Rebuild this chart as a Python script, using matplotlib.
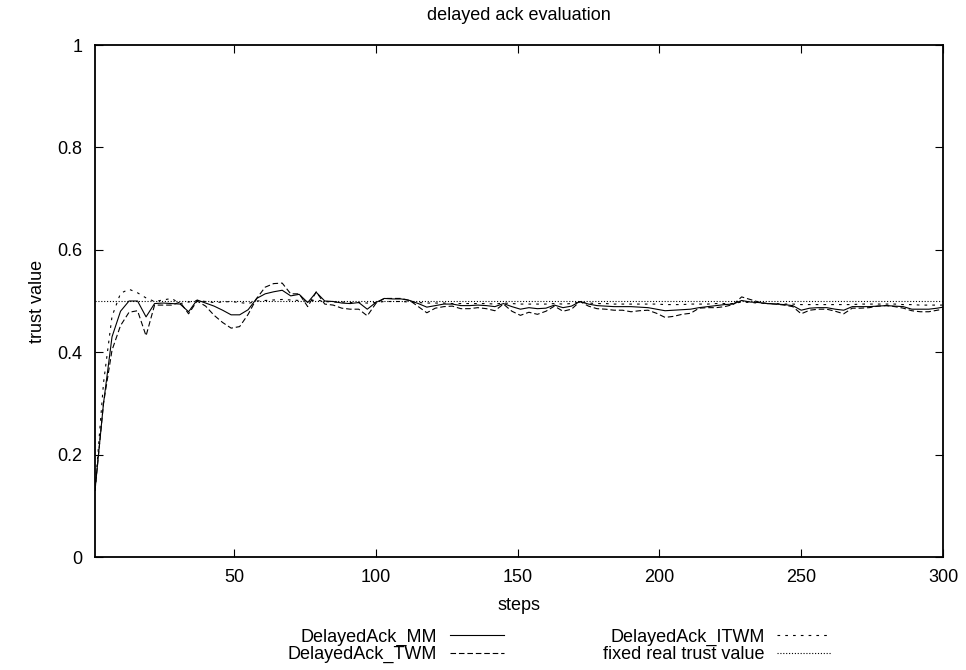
import matplotlib
matplotlib.use("Agg")
import matplotlib.pyplot as plt

plt.rcParams['font.family'] = ['Liberation Sans', 'DejaVu Sans']
plt.rcParams['font.size'] = 13

# sampling steps (every 3 steps, last one at 300)
steps = [1, 4, 7, 10, 13, 16, 19, 22, 25, 28, 31, 34, 37, 40, 43, 46, 49, 52, 55, 58,
         61, 64, 67, 70, 73, 76, 79, 82, 85, 88, 91, 94, 97, 100, 103, 106, 109, 112, 115, 118,
         121, 124, 127, 130, 133, 136, 139, 142, 145, 148, 151, 154, 157, 160, 163, 166, 169, 172, 175, 178,
         181, 184, 187, 190, 193, 196, 199, 202, 205, 208, 211, 214, 217, 220, 223, 226, 229, 232, 235, 238,
         241, 244, 247, 250, 253, 256, 259, 262, 265, 268, 271, 274, 277, 280, 283, 286, 289, 292, 295, 298,
         300]

mm = [0.130, 0.300, 0.430, 0.480, 0.500, 0.500, 0.469, 0.495, 0.496, 0.495, 0.494, 0.479, 0.502, 0.496, 0.490, 0.482, 0.473, 0.473, 0.483, 0.505,
      0.514, 0.518, 0.521, 0.510, 0.513, 0.497, 0.517, 0.500, 0.499, 0.496, 0.495, 0.497, 0.484, 0.497, 0.505, 0.504, 0.504, 0.501, 0.495, 0.488,
      0.491, 0.494, 0.494, 0.491, 0.491, 0.492, 0.491, 0.489, 0.495, 0.489, 0.484, 0.487, 0.485, 0.486, 0.492, 0.487, 0.490, 0.499, 0.494, 0.491,
      0.490, 0.489, 0.489, 0.489, 0.488, 0.487, 0.484, 0.481, 0.482, 0.483, 0.484, 0.487, 0.489, 0.491, 0.493, 0.494, 0.501, 0.498, 0.497, 0.495,
      0.494, 0.493, 0.491, 0.482, 0.486, 0.487, 0.487, 0.484, 0.482, 0.489, 0.489, 0.489, 0.490, 0.491, 0.490, 0.489, 0.484, 0.484, 0.484, 0.486,
      0.488]

twm = [0.130, 0.300, 0.404, 0.452, 0.478, 0.481, 0.432, 0.492, 0.492, 0.492, 0.498, 0.475, 0.500, 0.490, 0.472, 0.458, 0.447, 0.450, 0.474, 0.505,
       0.527, 0.534, 0.535, 0.514, 0.514, 0.489, 0.518, 0.494, 0.492, 0.486, 0.484, 0.484, 0.471, 0.495, 0.505, 0.505, 0.505, 0.501, 0.489, 0.477,
       0.486, 0.489, 0.490, 0.485, 0.485, 0.487, 0.485, 0.481, 0.494, 0.480, 0.472, 0.478, 0.474, 0.480, 0.490, 0.480, 0.484, 0.499, 0.490, 0.485,
       0.484, 0.482, 0.482, 0.479, 0.481, 0.482, 0.476, 0.468, 0.470, 0.474, 0.476, 0.486, 0.487, 0.487, 0.489, 0.493, 0.508, 0.503, 0.498, 0.495,
       0.494, 0.492, 0.489, 0.475, 0.482, 0.484, 0.484, 0.480, 0.475, 0.486, 0.486, 0.487, 0.490, 0.491, 0.489, 0.486, 0.481, 0.479, 0.479, 0.482,
       0.484]

itwm = [0.130, 0.340, 0.470, 0.515, 0.523, 0.516, 0.506, 0.499, 0.502, 0.505, 0.495, 0.498, 0.501, 0.499, 0.497, 0.498, 0.499, 0.497, 0.495, 0.500,
        0.501, 0.502, 0.503, 0.502, 0.501, 0.500, 0.502, 0.499, 0.498, 0.498, 0.497, 0.497, 0.496, 0.497, 0.499, 0.499, 0.499, 0.498, 0.497, 0.496,
        0.496, 0.496, 0.495, 0.495, 0.495, 0.495, 0.495, 0.494, 0.496, 0.495, 0.494, 0.494, 0.494, 0.494, 0.495, 0.494, 0.495, 0.498, 0.496, 0.495,
        0.495, 0.494, 0.494, 0.494, 0.494, 0.494, 0.494, 0.493, 0.493, 0.493, 0.494, 0.494, 0.494, 0.495, 0.495, 0.495, 0.498, 0.497, 0.496, 0.495,
        0.495, 0.494, 0.494, 0.493, 0.493, 0.493, 0.493, 0.493, 0.493, 0.493, 0.494, 0.494, 0.494, 0.494, 0.494, 0.493, 0.493, 0.492, 0.492, 0.492,
        0.492]

real_trust = 0.5

fig = plt.figure(figsize=(9.66, 6.70), dpi=100)
ax = fig.add_axes([95/966, 1-557/670, (943-95)/966, (557-45)/670])

ax.plot(steps, mm, color='black', lw=0.8, ls='-', label='DelayedAck_MM')
ax.plot(steps, twm, color='black', lw=0.8, ls=(0, (5, 2.6)), label='DelayedAck_TWM')
ax.plot(steps, itwm, color='black', lw=0.8, ls=(0, (2.4, 4.6)), label='DelayedAck_ITWM')
ax.plot([steps[0], steps[-1]], [real_trust, real_trust], color='black', lw=0.8,
        ls=(0, (1, 1.6)), label='fixed real trust value')

ax.set_xlim(1, 300)
ax.set_ylim(0, 1)
ax.set_xticks([50, 100, 150, 200, 250, 300])
ax.set_yticks([0, 0.2, 0.4, 0.6, 0.8, 1])
ax.set_yticklabels(['0', '0.2', '0.4', '0.6', '0.8', '1'])
ax.tick_params(direction='in', length=6, width=0.8, top=True, right=True, pad=9, labelsize=13)
for s in ax.spines.values():
    s.set_linewidth(1.3)

fig.text(519/966, 1-15/670, 'delayed ack evaluation', ha='center', va='center', fontsize=13)
fig.text(519/966, 1-605/670, 'steps', ha='center', va='center', fontsize=13)
fig.text(38/966, 1-301/670, 'trust value', ha='center', va='center', rotation=90, fontsize=13)

leg = ax.legend(ncol=2, loc='center', bbox_to_anchor=(559.5/966, 1-646/670),
                bbox_transform=fig.transFigure, frameon=False, markerfirst=False,
                handlelength=3.0, handletextpad=0.7, columnspacing=5.5,
                labelspacing=0.0, borderpad=0, fontsize=13)

fig.savefig('out.png', dpi=100)
